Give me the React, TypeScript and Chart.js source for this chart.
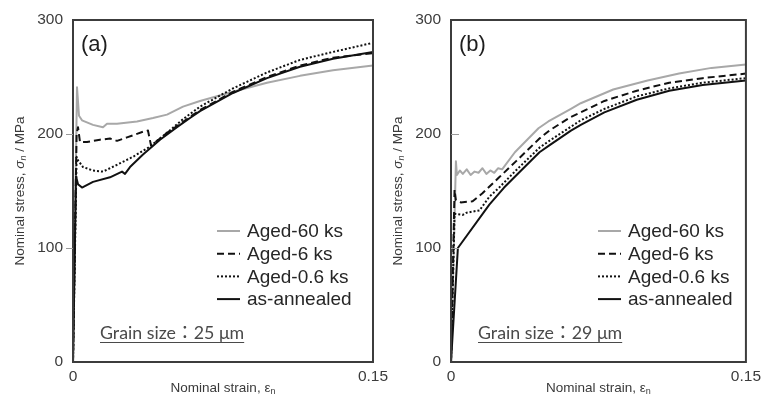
import React, { useEffect, useRef } from 'react';
import { Chart, registerables } from 'chart.js';

Chart.register(...registerables);

// ---- Panel (a): grain size 25 µm ----
const strainA_60ks = [0, 0.002, 0.003, 0.0045, 0.01, 0.015, 0.017, 0.022, 0.032, 0.04, 0.047, 0.055, 0.0635, 0.08, 0.097, 0.1135, 0.13, 0.15];
const stressA_60ks = [0, 241, 216, 212, 208, 206, 209, 209, 211, 214, 217, 224, 229, 237, 245, 251, 256, 260];

const strainA_6ks = [0, 0.0018, 0.0025, 0.0035, 0.007, 0.0135, 0.0185, 0.022, 0.027, 0.035, 0.0375, 0.039, 0.0435, 0.047, 0.052, 0.0585, 0.0635, 0.08, 0.097, 0.1135, 0.13, 0.15];
const stressA_6ks = [0, 200, 206, 193, 193, 195, 196, 194, 197, 202, 203, 190, 196, 201, 207, 215, 221, 237, 250, 260, 267, 271];

const strainA_06ks = [0, 0.0018, 0.0025, 0.005, 0.01, 0.015, 0.022, 0.03, 0.0385, 0.047, 0.055, 0.0635, 0.08, 0.097, 0.1135, 0.13, 0.15];
const stressA_06ks = [0, 180, 177, 171, 168, 167, 173, 180, 189, 201, 213, 224, 240, 254, 265, 272, 280];

const strainA_annealed = [0, 0.0015, 0.0025, 0.0045, 0.01, 0.0185, 0.0245, 0.026, 0.0285, 0.035, 0.0435, 0.052, 0.0585, 0.0635, 0.08, 0.097, 0.1135, 0.13, 0.15];
const stressA_annealed = [0, 163, 156, 153, 158, 162, 167, 165, 171, 182, 195, 206, 214, 220, 236, 249, 259, 266, 272];

// ---- Panel (b): grain size 29 µm ----
const strainB_60ks = [0, 0.0025, 0.003, 0.0045, 0.006, 0.008, 0.01, 0.012, 0.014, 0.016, 0.018, 0.02, 0.022, 0.024, 0.026, 0.0325, 0.0445, 0.0495, 0.061, 0.066, 0.0825, 0.1, 0.116, 0.1325, 0.15];
const stressB_60ks = [0, 176, 164, 168, 165, 169, 164, 167, 166, 170, 165, 168, 166, 170, 169, 184, 205, 211, 222, 227, 239, 247, 253, 258, 261];

const strainB_6ks = [0, 0.0018, 0.0025, 0.005, 0.011, 0.016, 0.0245, 0.033, 0.045, 0.05, 0.061, 0.066, 0.078, 0.0945, 0.111, 0.128, 0.15];
const stressB_6ks = [0, 151, 142, 140, 141, 148, 162, 176, 196, 203, 215, 219, 229, 238, 245, 249, 253];

const strainB_06ks = [0, 0.0018, 0.006, 0.008, 0.0145, 0.0195, 0.0245, 0.033, 0.045, 0.05, 0.066, 0.078, 0.0945, 0.111, 0.128, 0.15];
const stressB_06ks = [0, 130, 129, 131, 133, 145, 153, 168, 188, 194, 212, 222, 233, 240, 245, 249];

const strainB_annealed = [0, 0.0035, 0.0195, 0.027, 0.0345, 0.045, 0.05, 0.061, 0.066, 0.078, 0.0945, 0.111, 0.128, 0.15];
const stressB_annealed = [0, 100, 138, 153, 166, 184, 190, 203, 208, 219, 230, 238, 243, 247];

// ---- Axis ticks and labels ----
const strainTicks = [0, 0.15];
const stressTicks = [0, 100, 200, 300];
const seriesLabels = ['Aged-60 ks', 'Aged-6 ks', 'Aged-0.6 ks', 'as-annealed'];

const seriesStyle = [
  { color: '#a8a8a8', dash: [] as number[], order: 3 },
  { color: '#111111', dash: [7, 4], order: 2 },
  { color: '#111111', dash: [2, 2], order: 1 },
  { color: '#111111', dash: [] as number[], order: 0 },
];

const SANS = '"Liberation Sans", Arial, sans-serif';

type PanelSpec = {
  tag: string;
  grain: string;
  strains: number[][];
  stresses: number[][];
  legendDx: number;
  ticksInside: boolean;
  rightPad: number;
  width: number;
};

function toPoints(xs: number[], ys: number[]) {
  return xs.map((x, i) => ({ x, y: ys[i] }));
}

type Run = { text: string; font: string; dy?: number };

function runsWidth(ctx: CanvasRenderingContext2D, runs: Run[]) {
  let w = 0;
  for (const r of runs) {
    ctx.font = r.font;
    w += ctx.measureText(r.text).width;
  }
  return w;
}

function drawRuns(ctx: CanvasRenderingContext2D, runs: Run[], cx: number, cy: number) {
  const total = runsWidth(ctx, runs);
  let x = cx - total / 2;
  ctx.textAlign = 'left';
  ctx.textBaseline = 'middle';
  for (const r of runs) {
    ctx.font = r.font;
    ctx.fillText(r.text, x, cy + (r.dy || 0));
    x += ctx.measureText(r.text).width;
  }
}

function decorPlugin(spec: PanelSpec) {
  return {
    id: 'panelDecor',
    afterDraw(chart: any) {
      const { ctx, chartArea: a } = chart;
      const yScale = chart.scales.y;
      ctx.save();

      // plot frame
      ctx.strokeStyle = '#3c3c3c';
      ctx.lineWidth = 2;
      ctx.setLineDash([]);
      ctx.strokeRect(a.left, a.top, a.right - a.left, a.bottom - a.top);

      // minor tick marks on the stress axis
      ctx.strokeStyle = '#9a9a9a';
      ctx.lineWidth = 1;
      for (const v of [100, 200]) {
        const py = Math.round(yScale.getPixelForValue(v)) + 0.5;
        ctx.beginPath();
        if (spec.ticksInside) {
          ctx.moveTo(a.left, py);
          ctx.lineTo(a.left + 8, py);
        } else {
          ctx.moveTo(a.left - 7, py);
          ctx.lineTo(a.left, py);
        }
        ctx.stroke();
      }

      // panel tag
      ctx.fillStyle = '#1e1e1e';
      ctx.font = `22px ${SANS}`;
      ctx.textAlign = 'left';
      ctx.textBaseline = 'middle';
      ctx.fillText(spec.tag, a.left + 8, a.top + 25);

      // legend
      const lx0 = a.left + spec.legendDx;
      for (let i = 0; i < seriesLabels.length; i++) {
        const y = a.top + 211 + i * 22.7;
        const st = seriesStyle[i];
        ctx.strokeStyle = st.color;
        ctx.lineWidth = 2;
        ctx.setLineDash(st.dash);
        ctx.beginPath();
        ctx.moveTo(lx0, y);
        ctx.lineTo(lx0 + 23, y);
        ctx.stroke();
        ctx.setLineDash([]);
        ctx.fillStyle = '#262626';
        ctx.font = `19px ${SANS}`;
        ctx.textBaseline = 'middle';
        ctx.fillText(seriesLabels[i], lx0 + 30, y + 1);
      }

      // grain-size note, underlined
      ctx.fillStyle = '#4a4a4a';
      ctx.font = '17.8px Lato, "Noto Sans CJK JP", sans-serif';
      ctx.textBaseline = 'alphabetic';
      const gx = a.left + 27;
      const gy = a.top + 319;
      ctx.fillText(spec.grain, gx, gy);
      const gw = ctx.measureText(spec.grain).width;
      ctx.strokeStyle = '#4a4a4a';
      ctx.lineWidth = 1.2;
      ctx.beginPath();
      ctx.moveTo(gx, gy + 3.5);
      ctx.lineTo(gx + gw, gy + 3.5);
      ctx.stroke();

      // axis titles
      ctx.fillStyle = '#3a3a3a';
      const fs = 13.5;
      const reg = `${fs}px ${SANS}`;
      const ital = `italic ${fs}px ${SANS}`;
      const sub = `italic 9px ${SANS}`;
      drawRuns(ctx, [
        { text: 'Nominal strain, ', font: reg },
        { text: 'ε', font: reg },
        { text: 'n', font: `9px ${SANS}`, dy: 3.5 },
      ], (a.left + a.right) / 2, 388);

      ctx.save();
      ctx.translate(spec.tag === '(a)' ? 20 : 15, 191);
      ctx.rotate(-Math.PI / 2);
      drawRuns(ctx, [
        { text: 'Nominal stress, ', font: reg },
        { text: 'σ', font: ital },
        { text: 'n', font: sub, dy: 3.5 },
        { text: ' / MPa', font: reg },
      ], 0, 0);
      ctx.restore();

      ctx.restore();
    },
  };
}

function Panel({ spec, left }: { spec: PanelSpec; left: number }) {
  const ref = useRef<HTMLCanvasElement>(null);
  useEffect(() => {
    const tickFont = { family: SANS, size: 15.5 };
    const chart = new Chart(ref.current as HTMLCanvasElement, {
      type: 'line',
      data: {
        datasets: seriesLabels.map((label, i) => ({
          label,
          data: toPoints(spec.strains[i], spec.stresses[i]),
          borderColor: seriesStyle[i].color,
          borderDash: seriesStyle[i].dash,
          borderWidth: 2,
          borderJoinStyle: 'round' as const,
          pointRadius: 0,
          fill: false,
          tension: 0,
          order: seriesStyle[i].order,
        })),
      },
      options: {
        animation: false,
        responsive: false,
        maintainAspectRatio: false,
        devicePixelRatio: 1,
        layout: { padding: { top: 20, right: spec.rightPad, left: 0, bottom: 0 } },
        plugins: { legend: { display: false }, tooltip: { enabled: false } },
        scales: {
          x: {
            type: 'linear',
            min: 0,
            max: 0.15,
            afterFit: (s: any) => { s.height = 34; },
            afterBuildTicks: (s: any) => { s.ticks = strainTicks.map((value) => ({ value })); },
            grid: { display: false, drawTicks: false },
            border: { display: false },
            ticks: {
              padding: 5,
              color: '#3c3c3c',
              font: tickFont,
              maxRotation: 0,
              autoSkip: false,
              callback: (v: any) => String(v),
            },
          },
          y: {
            type: 'linear',
            min: 0,
            max: 300,
            afterFit: (s: any) => { s.width = spec.tag === '(a)' ? 73 : 68; },
            afterBuildTicks: (s: any) => { s.ticks = stressTicks.map((value) => ({ value })); },
            grid: { display: false, drawTicks: false },
            border: { display: false },
            ticks: {
              padding: 10,
              color: '#3c3c3c',
              font: tickFont,
              autoSkip: false,
              callback: (v: any) => String(v),
            },
          },
        },
      },
      plugins: [decorPlugin(spec)],
    });
    return () => chart.destroy();
  }, [spec]);
  return (
    <canvas
      ref={ref}
      width={spec.width}
      height={396}
      style={{ position: 'absolute', left, top: 0, width: spec.width, height: 396 }}
    />
  );
}

const panelA: PanelSpec = {
  tag: '(a)',
  grain: 'Grain size：25 μm',
  strains: [strainA_60ks, strainA_6ks, strainA_06ks, strainA_annealed],
  stresses: [stressA_60ks, stressA_6ks, stressA_06ks, stressA_annealed],
  legendDx: 144,
  ticksInside: false,
  rightPad: 27,
  width: 400,
};

const panelB: PanelSpec = {
  tag: '(b)',
  grain: 'Grain size：29 μm',
  strains: [strainB_60ks, strainB_6ks, strainB_06ks, strainB_annealed],
  stresses: [stressB_60ks, stressB_6ks, stressB_06ks, stressB_annealed],
  legendDx: 147,
  ticksInside: true,
  rightPad: 15,
  width: 383,
};

export default function App() {
  return (
    <div style={{ position: 'fixed', left: 0, top: 0, width: 766, height: 396, background: '#ffffff', overflow: 'hidden' }}>
      <Panel spec={panelA} left={0} />
      <Panel spec={panelB} left={383} />
    </div>
  );
}
